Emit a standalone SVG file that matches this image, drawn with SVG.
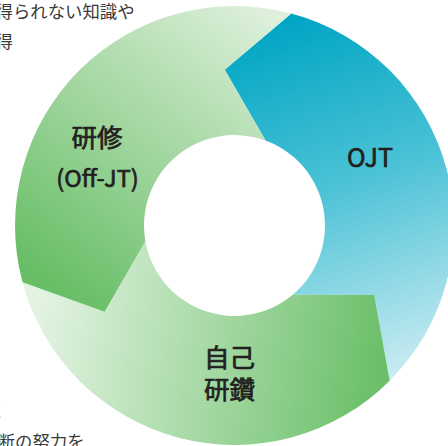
<svg xmlns="http://www.w3.org/2000/svg" width="448" height="446" viewBox="0 0 448 446">
  <style>
    .lbl { font-family: "Noto Sans CJK JP", "Noto Sans", sans-serif; font-weight: 400; fill: #231f20; stroke: #231f20; stroke-width: 0.7px; text-anchor: middle; }
    .body { font-family: "Noto Sans CJK JP", "Noto Sans", sans-serif; font-weight: 400; fill: #3a3a3a; font-size: 17.4px; }
  </style>
  <defs>
    <linearGradient id="gOJT" gradientUnits="userSpaceOnUse" x1="280" y1="20" x2="400" y2="390">
      <stop offset="0" stop-color="#00a5c4"/>
      <stop offset="0.45" stop-color="#4cc2d6"/>
      <stop offset="1" stop-color="#d3eff4"/>
    </linearGradient>
    <linearGradient id="gKen" gradientUnits="userSpaceOnUse" x1="70" y1="300" x2="285" y2="25">
      <stop offset="0" stop-color="#68be66"/>
      <stop offset="1" stop-color="#def0dc"/>
    </linearGradient>
    <linearGradient id="gJiko" gradientUnits="userSpaceOnUse" x1="40" y1="300" x2="385" y2="360">
      <stop offset="0" stop-color="#e3f3e2"/>
      <stop offset="1" stop-color="#6abf68"/>
    </linearGradient>
  </defs>

  <g id="text-top">
    <text class="body" x="-4.5" y="18">得られない知識や</text>
    <text class="body" x="-4.5" y="48">得</text>
  </g>
  <g id="text-bottom">
    <text class="body" x="-15.4" y="418">に</text>
    <text class="body" x="-2.4" y="448">断の努力を</text>
  </g>

  <g id="connectors"></g>

  <g id="node-ojt">
    <path d="M291.3,13.5 A219.5,219.5 0 0 1 389.7,380.7 L374.2,294.9 L292.7,294.8 A90.5,90.5 0 0 0 265.5,140.5 L224.7,69.8 Z" fill="url(#gOJT)"/>
    <text class="lbl" x="370" y="166.5" font-size="25">OJT</text>
  </g>
  <g id="node-jiko">
    <path d="M389.7,380.7 A219.5,219.5 0 0 1 22.5,282.3 L104.6,311.8 L145.4,241.2 A90.5,90.5 0 0 0 292.7,294.8 L374.2,294.9 Z" fill="url(#gJiko)"/>
    <text class="lbl" x="229.5" y="367" font-size="25.5">自己</text>
    <text class="lbl" x="229.5" y="398.5" font-size="25.5">研鑽</text>
  </g>
  <g id="node-kenshu">
    <path d="M22.5,282.3 A219.5,219.5 0 0 1 291.3,13.5 L224.7,69.8 L265.5,140.5 A90.5,90.5 0 0 0 145.4,241.2 L104.6,311.8 Z" fill="url(#gKen)"/>
    <text class="lbl" x="97" y="147" font-size="25.5">研修</text>
    <text class="lbl" x="97.5" y="187" font-size="23.5">(Off-JT)</text>
  </g>
</svg>
